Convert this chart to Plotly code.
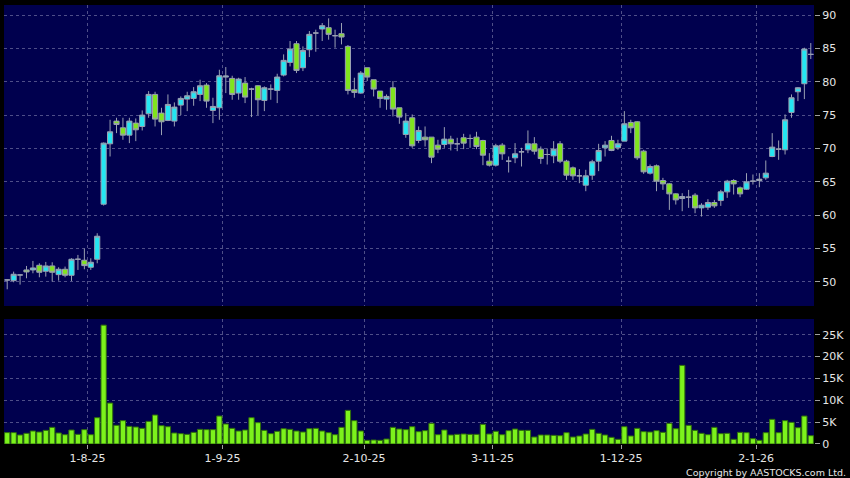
import plotly.graph_objects as go
from plotly.subplots import make_subplots

# daily sessions, 15-7-25 .. 14-1-26
opens = [50.3, 50.2, 51.05, 51.8, 51.8, 52.5, 51.6, 52.4, 51.1, 51.9,
         51.0, 53.4, 53.25, 52.2, 53.4, 61.65, 70.7, 74.1, 73.1, 72.0,
         73.8, 73.3, 75.2, 78.1, 75.3, 74.2, 74.1, 76.5, 77.4, 77.5,
         78.1, 79.5, 75.7, 76.1, 80.7, 80.5, 78.3, 79.8, 78.9, 79.4,
         77.2, 78.9, 78.7, 81.0, 82.9, 85.7, 82.1, 84.8, 87.3, 87.9,
         88.1, 86.9, 87.2, 85.3, 78.8, 78.3, 82.1, 80.3, 78.6, 77.4,
         79.1, 76.1, 72.1, 74.6, 71.2, 71.7, 71.7, 70.5, 70.6, 71.4,
         70.7, 71.6, 71.5, 71.7, 71.2, 68.1, 67.5, 70.5, 68.1, 68.6,
         69.5, 69.8, 70.7, 69.9, 69.1, 68.9, 70.7, 68.1, 67.1, 65.9,
         64.5, 66.0, 68.1, 70.1, 71.2, 70.1, 71.1, 73.9, 74.0, 69.6,
         66.3, 67.4, 65.2, 64.7, 63.2, 62.5, 62.7, 63.0, 61.1, 61.2,
         61.9, 62.2, 63.5, 65.2, 64.1, 63.9, 65.1, 65.2, 65.6, 68.8,
         69.9, 69.8, 75.4, 78.5, 79.7, 84.1]
highs = [50.4, 51.55, 51.1, 52.4, 53.15, 52.8, 53.0, 52.95, 52.2, 52.3,
         53.55, 54.05, 55.0, 53.55, 57.3, 70.9, 74.3, 74.6, 74.6, 74.6,
         74.5, 75.7, 78.6, 78.5, 76.1, 78.1, 76.9, 77.8, 78.5, 79.2,
         80.3, 79.8, 77.6, 81.8, 82.2, 80.9, 80.6, 80.7, 79.1, 79.5,
         79.3, 79.6, 81.2, 84.1, 86.1, 86.1, 85.3, 87.6, 87.8, 88.8,
         89.5, 87.8, 88.8, 85.5, 80.6, 81.6, 82.1, 80.3, 78.6, 78.1,
         80.1, 76.1, 75.3, 75.1, 73.3, 73.3, 71.7, 71.3, 73.2, 71.9,
         71.6, 72.2, 72.1, 72.5, 71.3, 69.3, 70.7, 70.8, 68.8, 70.8,
         70.1, 72.7, 71.7, 70.3, 70.0, 71.1, 71.1, 68.3, 67.3, 66.9,
         66.8, 68.3, 70.7, 71.1, 71.9, 71.3, 75.6, 74.3, 74.1, 69.8,
         67.6, 67.6, 65.6, 64.8, 63.3, 63.3, 63.8, 63.3, 61.8, 62.4,
         62.3, 63.8, 65.3, 65.4, 64.3, 66.3, 66.1, 66.3, 68.2, 72.3,
         71.2, 75.1, 78.1, 79.2, 85.1, 85.8]
lows = [48.9, 49.95, 49.6, 50.55, 51.3, 50.7, 50.8, 50.05, 50.2, 50.7,
        50.15, 51.8, 51.9, 51.8, 52.8, 61.45, 68.8, 72.3, 71.3, 70.8,
        71.1, 72.7, 74.6, 73.3, 72.0, 74.1, 73.3, 75.0, 75.6, 76.4,
        77.1, 76.1, 73.8, 74.3, 78.3, 77.3, 77.3, 76.8, 74.7, 75.0,
        75.6, 77.3, 76.8, 80.8, 82.3, 81.3, 81.6, 83.7, 84.5, 86.1,
        86.3, 85.1, 85.6, 78.1, 77.6, 78.2, 80.1, 77.8, 76.1, 75.8,
        74.8, 73.7, 71.6, 70.1, 70.8, 70.3, 67.8, 69.3, 70.1, 69.7,
        69.6, 69.9, 70.1, 69.9, 67.5, 67.3, 67.3, 68.3, 66.4, 67.8,
        67.3, 69.3, 69.1, 67.7, 67.6, 67.8, 67.8, 65.3, 65.3, 64.8,
        63.6, 65.3, 66.6, 68.8, 69.6, 69.8, 71.1, 72.3, 68.3, 66.2,
        66.1, 63.6, 63.8, 60.8, 61.6, 60.6, 61.1, 60.3, 59.8, 60.8,
        61.1, 61.4, 62.6, 63.1, 62.7, 63.8, 64.6, 64.2, 65.3, 68.7,
        68.3, 69.1, 74.6, 77.1, 77.4, 83.4]
closes = [50.3, 51.15, 51.05, 51.5, 52.1, 51.45, 52.4, 51.45, 51.9, 51.0,
          53.4, 53.4, 52.45, 52.95, 56.85, 70.8, 72.5, 73.6, 72.0, 74.1,
          72.8, 75.0, 78.1, 74.4, 74.0, 76.6, 76.2, 77.5, 77.9, 78.5,
          79.4, 77.1, 76.3, 80.9, 80.85, 78.1, 80.4, 77.7, 78.9, 77.3,
          79.1, 78.9, 80.7, 83.2, 84.9, 81.7, 84.7, 87.1, 87.3, 88.4,
          87.1, 86.9, 86.7, 78.7, 78.4, 81.3, 80.7, 78.9, 77.5, 77.8,
          75.9, 74.7, 74.1, 70.4, 72.7, 71.3, 68.7, 69.9, 71.4, 70.7,
          70.7, 70.8, 71.5, 70.3, 69.0, 67.5, 70.4, 69.2, 68.1, 69.2,
          69.5, 70.7, 69.6, 68.5, 69.1, 69.9, 68.1, 66.0, 65.9, 65.9,
          65.9, 68.0, 69.7, 70.5, 69.7, 70.7, 73.7, 73.1, 68.6, 66.5,
          67.3, 65.1, 64.7, 63.2, 62.3, 62.8, 62.7, 61.1, 61.5, 61.9,
          61.4, 63.5, 65.1, 64.7, 63.2, 65.0, 65.1, 65.4, 66.3, 70.2,
          69.9, 74.3, 77.6, 79.1, 84.9, 84.1]
volume = [2600, 2600, 2060, 2440, 2970, 2740, 3120, 3810, 2520, 2130,
          3200, 2210, 3280, 2130, 6020, 27200, 9370, 4270, 5340, 4040,
          3890, 3580, 5180, 6630, 4190, 3960, 2520, 2360, 2210, 2670,
          3350, 3280, 3280, 6400, 4570, 3580, 2970, 3200, 6020, 4880,
          3120, 2360, 2900, 3500, 3350, 2970, 2740, 3500, 3580, 2970,
          2590, 2130, 3810, 7700, 5340, 2970, 840, 910, 840, 1140,
          3810, 3430, 3280, 3960, 2820, 3050, 4730, 2130, 3200, 2060,
          2210, 2290, 2210, 2210, 4500, 2290, 2900, 2130, 3050, 3430,
          3120, 3120, 1600, 2060, 2060, 1980, 1900, 2590, 1600, 1830,
          2290, 3350, 2440, 2060, 1520, 1070, 3960, 1830, 3580, 2820,
          2740, 3050, 2670, 4730, 3500, 17990, 4270, 3120, 2440, 2130,
          3810, 2360, 2440, 1070, 2670, 2590, 1220, 840, 2590, 5640,
          2590, 5340, 4950, 3730, 6400, 1900]

# first session of each month and its label
month_first = [13, 34, 56, 76, 96, 117]
month_labels = ['1-8-25', '1-9-25', '2-10-25', '3-11-25', '1-12-25', '2-1-26']

price_ticks = [50, 55, 60, 65, 70, 75, 80, 85, 90]
vol_ticks = [0, 5000, 10000, 15000, 20000, 25000]
vol_tick_text = ['0', '5K', '10K', '15K', '20K', '25K']

idx = list(range(len(opens)))
grid = '#4e4e88'
tickfont = dict(family='DejaVu Sans', size=11, color='#e6e6e6')

fig = make_subplots(rows=2, cols=1, shared_xaxes=True, vertical_spacing=0.03)

fig.add_trace(go.Candlestick(x=idx, open=opens, high=highs, low=lows, close=closes,
                             increasing=dict(line=dict(color='#9aa0b2', width=1),
                                             fillcolor='#24e6f2'),
                             decreasing=dict(line=dict(color='#9aa0b2', width=1),
                                             fillcolor='#80e41e'),
                             showlegend=False),
              row=1, col=1)
fig.add_trace(go.Bar(x=idx, y=volume,
                     marker=dict(color='#7cf21c', line=dict(color='#2f6e0c', width=1)),
                     showlegend=False),
              row=2, col=1)

fig.update_xaxes(range=[-0.5, len(idx) - 0.5],
                 tickvals=[m - 0.5 for m in month_first],
                 ticktext=month_labels,
                 showgrid=True, gridcolor=grid, griddash='3px,3px', gridwidth=1,
                 zeroline=False, showline=False,
                 rangeslider_visible=False)
fig.update_xaxes(showticklabels=False, row=1, col=1)
fig.update_xaxes(ticks='outside', ticklen=4, tickcolor='#a0a0a0',
                 tickfont=tickfont, row=2, col=1)

fig.update_yaxes(side='right', showgrid=True, gridcolor=grid, griddash='3px,3px',
                 zeroline=False, showline=False,
                 ticks='outside', ticklen=5, tickcolor='#a0a0a0', tickfont=tickfont)
fig.update_yaxes(range=[46.4, 91.5], tickvals=price_ticks, row=1, col=1)
fig.update_yaxes(range=[0, 28600], tickvals=vol_ticks, ticktext=vol_tick_text,
                 row=2, col=1)

fig.update_layout(width=850, height=478,
                  margin=dict(l=4, r=36, t=5, b=34),
                  paper_bgcolor='black', plot_bgcolor='#00004e',
                  boxgap=0.2, boxgroupgap=0, bargap=0.18,
                  yaxis=dict(domain=[0.3144, 1]),
                  yaxis2=dict(domain=[0, 0.2847]),
                  xaxis=dict(domain=[0, 1]),
                  hovermode=False)

fig.add_annotation(text='Copyright by AASTOCKS.com Ltd.', xref='paper', yref='paper',
                   x=1.042, y=-0.064, xanchor='right', yanchor='middle', showarrow=False,
                   font=dict(family='DejaVu Sans', size=9.5, color='#e6e6e6'))

fig.write_html('out.html', config={'displayModeBar': False},
               post_script="document.body.style.margin='0';")
